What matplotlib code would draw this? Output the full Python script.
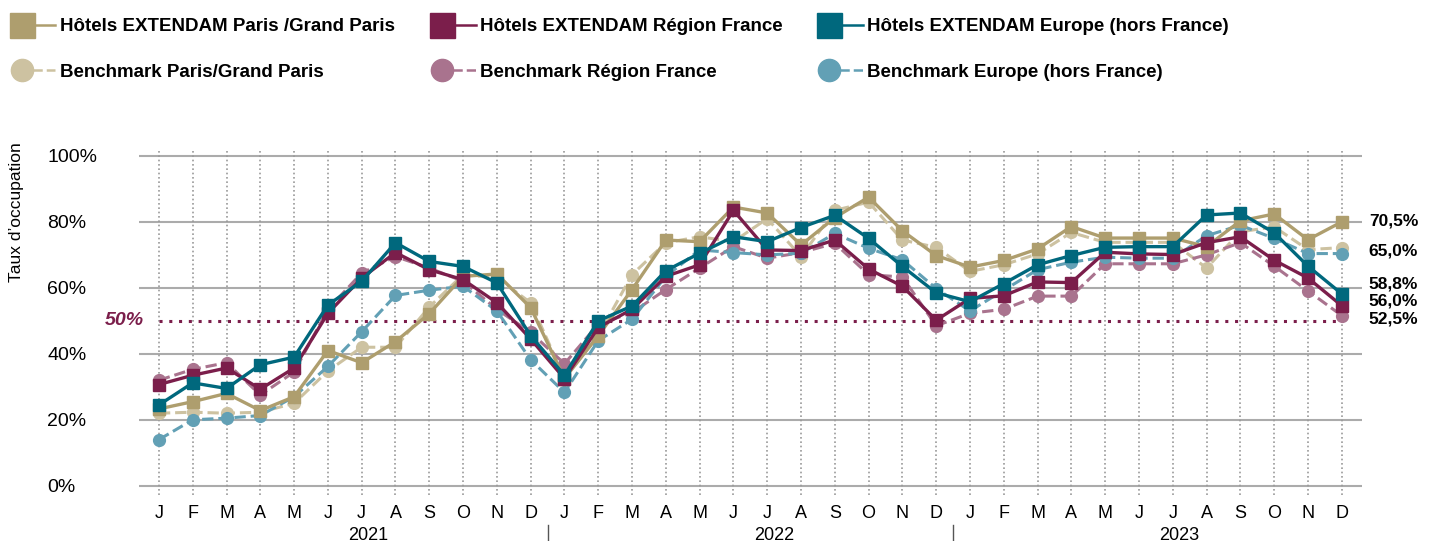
import numpy as np
import matplotlib.pyplot as plt
from matplotlib.lines import Line2D
from matplotlib.legend_handler import HandlerTuple

plt.rcParams['font.family'] = ['Liberation Sans', 'DejaVu Sans']

months = ["J", "F", "M", "A", "M", "J", "J", "A", "S", "O", "N", "D"] * 3
years = ["2021", "2022", "2023"]

# taux d'occupation mensuel (%), janv. 2021 -> dec. 2023
paris_hotels = [23.3, 25.5, 28.0, 22.8, 27.0, 41.0, 37.3, 43.7, 52.2, 63.5, 64.2, 54.0,
                32.5, 45.5, 59.5, 74.5, 74.0, 84.5, 82.7, 73.0, 81.3, 87.5, 77.3, 69.8,
                66.3, 68.3, 71.8, 78.6, 75.1, 75.1, 75.1, 72.5, 80.3, 82.4, 74.6, 80.0]
region_hotels = [30.7, 33.5, 35.7, 29.3, 35.7, 52.3, 63.0, 70.7, 65.5, 62.5, 55.5, 44.5,
                 32.5, 48.0, 53.5, 63.5, 67.0, 83.5, 71.5, 71.3, 74.5, 65.7, 60.5, 50.2,
                 56.8, 57.6, 61.8, 61.6, 70.8, 70.3, 70.1, 73.7, 75.5, 68.4, 63.0, 54.6]
europe_hotels = [24.5, 31.2, 29.5, 36.7, 39.0, 54.8, 62.0, 73.7, 68.0, 66.5, 61.5, 45.5,
                 33.5, 50.0, 54.5, 65.2, 70.5, 75.5, 74.0, 78.3, 82.0, 75.0, 66.5, 58.5,
                 55.8, 61.3, 67.0, 69.8, 72.3, 72.5, 72.5, 82.1, 82.7, 76.7, 66.6, 58.2]
paris_bench = [22.0, 22.3, 22.0, 22.3, 25.0, 34.8, 42.0, 42.0, 54.2, 64.0, 63.0, 55.5,
               32.7, 45.5, 64.0, 73.7, 75.5, 74.0, 81.0, 69.5, 83.5, 86.0, 74.5, 72.3,
               65.0, 67.0, 70.3, 76.8, 73.8, 73.8, 73.8, 66.0, 77.0, 78.5, 71.6, 72.2]
region_bench = [32.0, 35.3, 37.3, 27.5, 34.5, 53.5, 64.5, 69.5, 66.0, 62.0, 53.5, 46.5,
                37.0, 49.0, 52.5, 59.5, 66.0, 72.5, 69.0, 70.7, 73.5, 64.0, 63.3, 48.5,
                52.3, 53.5, 57.5, 57.5, 67.3, 67.3, 67.3, 70.0, 73.7, 66.6, 59.1, 51.6]
europe_bench = [14.0, 20.0, 20.5, 21.3, 27.0, 36.2, 46.7, 57.7, 59.3, 60.5, 53.0, 38.2,
                28.3, 44.0, 50.5, 63.5, 71.5, 70.7, 70.0, 70.5, 76.5, 72.0, 68.5, 59.8,
                53.0, 59.3, 65.5, 67.8, 69.3, 69.0, 69.0, 75.8, 79.0, 75.0, 70.4, 70.4]

# libelles de fin de courbe et leur hauteur
end_labels = ["70,5%", "65,0%", "58,8%", "56,0%", "52,5%"]
end_label_y = [80.3, 71.3, 61.3, 56.0, 50.5]

gold, gold_b = "#AE9E6E", "#CDC2A1"
purple, purple_b = "#7B1E4B", "#A9738E"
teal, teal_b = "#00687D", "#62A0B5"

x = np.arange(len(months))

fig = plt.figure(figsize=(14.31, 5.41), dpi=100)
ax = fig.add_axes([139 / 1431, 1 - 495 / 541, (1362 - 139) / 1431, 345 / 541])
ax.set_xlim(-0.59, 35.6)
ax.set_ylim(-2.8, 101.8)

# grille
for v in range(0, 101, 20):
    ax.axhline(v, color="#ABABAB", lw=1.5, zorder=1)
ax.vlines(x, -2.8, 101.8, color="#9A9A9A", lw=1.2, linestyle=(0, (1, 1.6)), zorder=1)
ax.hlines(50, x[0], x[-1], color=purple, lw=2.2, linestyle=(0, (1, 2.2)), zorder=2)

# benchmarks (pointilles)
ax.plot(x, paris_bench, color=gold_b, ls="--", lw=2.2, marker="o", ms=8.5, zorder=3)
ax.plot(x, region_bench, color=purple_b, ls="--", lw=2.2, marker="o", ms=8.5, zorder=3)
ax.plot(x, europe_bench, color=teal_b, ls="--", lw=2.2, marker="o", ms=8.5, zorder=3)

# hotels EXTENDAM
ax.plot(x, paris_hotels, color=gold, lw=2.4, marker="s", ms=9, zorder=4)
ax.plot(x, region_hotels, color=purple, lw=2.4, marker="s", ms=9, zorder=4)
ax.plot(x, europe_hotels, color=teal, lw=2.4, marker="s", ms=9, zorder=4)

for s in ax.spines.values():
    s.set_visible(False)

ax.set_yticks(range(0, 101, 20))
ax.set_yticklabels([f"{v}%" for v in range(0, 101, 20)], ha="left", fontsize=14)
ax.tick_params(axis="y", length=0, pad=66)
ax.set_xticks(x)
ax.set_xticklabels(months, fontsize=13)
ax.tick_params(axis="x", length=0, pad=7)

ax.text(-0.45, 50, "50%", color=purple, fontsize=14, fontweight="bold",
        fontstyle="italic", ha="right", va="center")

for lab, yv in zip(end_labels, end_label_y):
    ax.text(35.8, yv, lab, fontsize=12.5, fontweight="bold", ha="left", va="center",
            clip_on=False)

# annees + separateurs
for i, yr in enumerate(years):
    ax.text(i * 12 + 6.2, -0.092, yr, transform=ax.get_xaxis_transform(),
            fontsize=13, ha="center", va="top")
for i in (1, 2):
    ax.plot([i * 12 - 0.5] * 2, [-0.087, -0.14], transform=ax.get_xaxis_transform(),
            color="#555555", lw=1, clip_on=False)

fig.text(17 / 1431, 1 - 212 / 541, "Taux d’occupation", rotation=90,
         fontsize=12.5, ha="center", va="center")

# legende : une colonne par zone
def handle(col, mk, ls, ms):
    m = Line2D([], [], color=col, marker=mk, ms=ms, ls="none")
    l = Line2D([], [], color=col, ls=ls, lw=1.8)
    return (m, l)

legend_cols = [
    ((gold, gold_b), ["Hôtels EXTENDAM Paris /Grand Paris", "Benchmark Paris/Grand Paris"]),
    ((purple, purple_b), ["Hôtels EXTENDAM Région France", "Benchmark Région France"]),
    ((teal, teal_b), ["Hôtels EXTENDAM Europe (hors France)", "Benchmark Europe (hors France)"]),
]
legend_x = [3, 423, 810]
for (cols, labs), lx in zip(legend_cols, legend_x):
    hs = [handle(cols[0], "s", "-", 18), handle(cols[1], "o", "--", 16)]
    fig.legend(hs, labs, loc="upper left", bbox_to_anchor=(lx / 1431, 0.98),
               frameon=False, handler_map={tuple: HandlerTuple(ndivide=None, pad=0.0)},
               handlelength=2.4, handletextpad=0.25, labelspacing=1.5,
               prop={"size": 13.5, "weight": "bold"}, borderaxespad=0, borderpad=0.4)

fig.savefig("out.png", dpi=100)
